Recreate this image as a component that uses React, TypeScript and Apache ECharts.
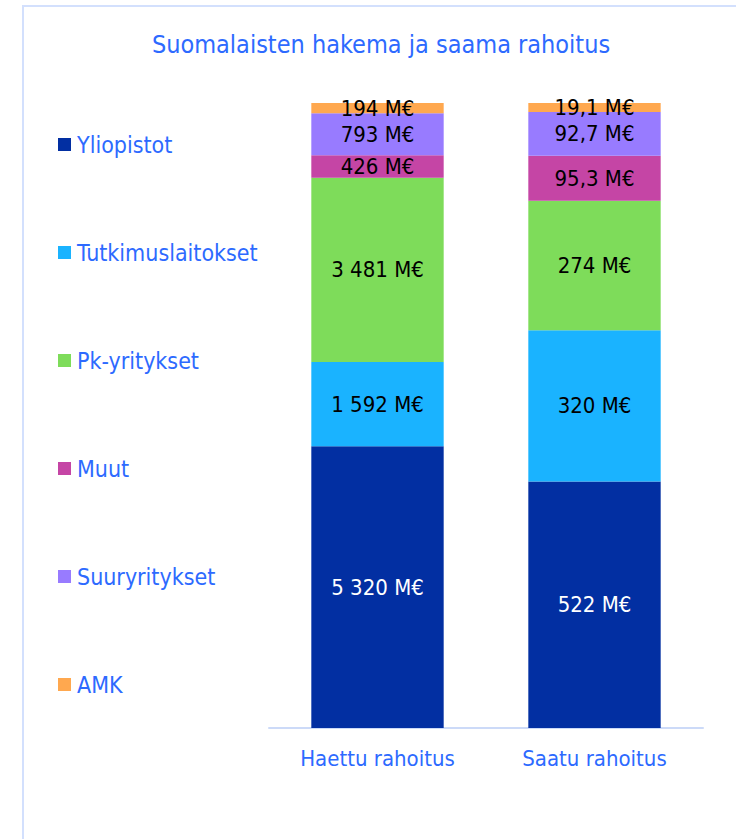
import React, { useEffect, useRef } from "react";
import * as echarts from "echarts";

const categories = ["Haettu rahoitus", "Saatu rahoitus"];
const seriesNames = ["Yliopistot", "Tutkimuslaitokset", "Pk-yritykset", "Muut", "Suuryritykset", "AMK"];
const yliopistot = [5320, 522];
const tutkimuslaitokset = [1592, 320];
const pkYritykset = [3481, 274];
const muut = [426, 95.3];
const suuryritykset = [793, 92.7];
const amk = [194, 19.1];
const colors = ["#022FA2", "#1AB3FF", "#7EDC5A", "#C545A5", "#987BFF", "#FFA84F"];
const labelColors = ["#ffffff", "#000000", "#000000", "#000000", "#000000", "#000000"];

const FONT = "'DejaVu Sans Condensed', 'DejaVu Sans', sans-serif";
const BLUE = "#2D6AFF";

function fmt(v: number): string {
  const parts = String(v).split(".");
  const intPart = parts[0].replace(/\B(?=(\d{3})+(?!\d))/g, " ");
  return (parts[1] ? intPart + "," + parts[1] : intPart) + " M€";
}

export default function App() {
  const ref = useRef<HTMLDivElement>(null);
  useEffect(() => {
    if (!ref.current) return;
    const chart = echarts.init(ref.current, null, { renderer: "svg" });
    const raw = [yliopistot, tutkimuslaitokset, pkYritykset, muut, suuryritykset, amk];
    const totals = categories.map((_, i) => raw.reduce((s, arr) => s + arr[i], 0));
    chart.setOption({
      animation: false,
      graphic: [
        {
          type: "rect",
          shape: { x: 23, y: 6, width: 800, height: 900 },
          style: { fill: "none", stroke: "#D3E0FD", lineWidth: 2 },
          silent: true,
        },
        {
          type: "text",
          x: 381,
          y: 44,
          style: {
            text: "Suomalaisten hakema ja saama rahoitus",
            font: `25px ${FONT}`,
            fill: BLUE,
            align: "center",
            verticalAlign: "middle",
          },
        },
      ],
      legend: {
        orient: "vertical",
        left: 58,
        top: 133,
        padding: 0,
        itemWidth: 13,
        itemHeight: 13,
        itemGap: 85,
        icon: "rect",
        data: seriesNames,
        textStyle: { fontFamily: FONT, fontSize: 23, lineHeight: 23, color: BLUE, padding: [0, 0, 0, 1] },
      },
      grid: { left: 269, right: 33, top: 103, bottom: 111 },
      xAxis: {
        type: "category",
        data: categories,
        axisLine: { lineStyle: { color: "#CCDAF8", width: 2 } },
        axisTick: { show: false },
        axisLabel: { fontFamily: FONT, fontSize: 22, color: BLUE, margin: 19 },
      },
      yAxis: { type: "value", min: 0, max: 100, show: false },
      series: seriesNames.map((name, si) => ({
        name,
        type: "bar",
        stack: "total",
        barWidth: "61%",
        itemStyle: { color: colors[si] },
        label: {
          show: true,
          position: "inside",
          fontFamily: FONT,
          fontSize: 22,
          color: labelColors[si],
          formatter: (p: any) => fmt(raw[si][p.dataIndex]),
        },
        data: raw[si].map((v, i) => (v / totals[i]) * 100),
      })),
    });
    return () => chart.dispose();
  }, []);
  return (
    <div style={{ position: "fixed", left: 0, top: 0, width: 736, height: 839, background: "#fff" }}>
      <div ref={ref} style={{ width: 736, height: 839 }} />
    </div>
  );
}
